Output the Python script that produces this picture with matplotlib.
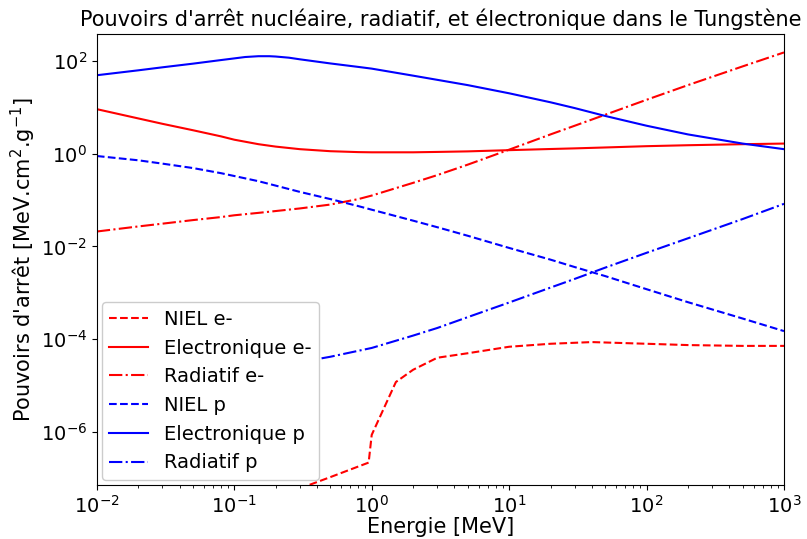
import matplotlib
matplotlib.use('Agg')
import matplotlib.pyplot as plt
from matplotlib.ticker import NullLocator

# energies (MeV) and stopping powers (MeV.cm2/g)
energy = [0.01, 0.02, 0.03, 0.05, 0.08, 0.1, 0.15, 0.2, 0.3, 0.5, 0.8, 1,
          2, 3, 5, 10, 20, 30, 50, 100, 200, 500, 1000]

elec_e = [9.1, 5.75, 4.4, 3.2, 2.36, 2.0, 1.6, 1.42, 1.25, 1.13, 1.08, 1.07,
          1.07, 1.09, 1.12, 1.19, 1.26, 1.30, 1.36, 1.45, 1.52, 1.60, 1.65]
rad_e = [0.021, 0.027, 0.031, 0.037, 0.043, 0.047, 0.053, 0.058, 0.066, 0.08, 0.105, 0.125,
         0.235, 0.345, 0.58, 1.22, 2.6, 4.0, 6.9, 14.5, 30, 76, 152]
niel_p = [0.89, 0.72, 0.61, 0.49, 0.38, 0.33, 0.255, 0.205, 0.15, 0.105, 0.074, 0.062,
          0.036, 0.026, 0.017, 0.0093, 0.0052, 0.0036, 0.0023, 0.0012, 0.00063, 0.00028, 0.00015]

energy_elec_p = [0.01, 0.02, 0.03, 0.05, 0.08, 0.1, 0.12, 0.15, 0.18, 0.2, 0.25, 0.3,
                 0.5, 0.8, 1, 2, 3, 5, 10, 20, 30, 50, 100, 200, 500, 1000]
elec_p = [49, 62.5, 72.6, 87, 104, 113, 121, 126, 126, 124, 117, 108,
          88, 74, 68, 48, 39, 30, 20, 12.8, 9.6, 6.5, 4.0, 2.6, 1.65, 1.25]

energy_rad_p = [0.3, 0.5, 1, 2, 3, 5, 10, 20, 30, 50, 100, 200, 500, 1000]
rad_p = [3.2e-5, 4.2e-5, 6.5e-5, 1.2e-4, 1.75e-4, 3.0e-4, 6.2e-4, 1.3e-3, 2.0e-3,
         3.5e-3, 7.3e-3, 1.5e-2, 3.9e-2, 8.3e-2]

energy_niel_e = [0.25, 0.5, 0.95, 1.0, 1.5, 2, 3, 5, 10, 20, 40, 100, 200, 500, 1000]
niel_e = [5e-8, 1.07e-7, 2.2e-7, 8.7e-7, 1.2e-5, 2.2e-5, 4.0e-5, 5.0e-5, 6.9e-5,
          8.0e-5, 8.7e-5, 8.0e-5, 7.5e-5, 7.2e-5, 7.2e-5]

fig = plt.figure(figsize=(8.07, 5.39), dpi=100)
ax = fig.add_axes([0.12, 0.1, 0.8515, 0.837])

ax.loglog(energy_niel_e, niel_e, 'r--', label='NIEL e-')
ax.loglog(energy, elec_e, 'r-', label='Electronique e-')
ax.loglog(energy, rad_e, 'r-.', label='Radiatif e-')
ax.loglog(energy, niel_p, 'b--', label='NIEL p')
ax.loglog(energy_elec_p, elec_p, 'b-', label='Electronique p')
ax.loglog(energy_rad_p, rad_p, 'b-.', label='Radiatif p')

ax.set_xlim(1e-2, 1e3)
ax.set_ylim(7.2e-8, 3.8e2)
ax.set_yticks([1e-6, 1e-4, 1e-2, 1, 1e2])
ax.yaxis.set_minor_locator(NullLocator())
ax.tick_params(labelsize=14)

ax.set_xlabel('Energie [MeV]', fontsize=15, labelpad=0)
ax.set_ylabel(r"Pouvoirs d'arrêt [MeV.cm$^2$.g$^{-1}$]", fontsize=15, labelpad=2)
ax.set_title("Pouvoirs d'arrêt nucléaire, radiatif, et électronique dans le Tungstène", fontsize=15)
ax.legend(loc='lower left', fontsize=14, framealpha=1, borderaxespad=0.25)

fig.savefig('out.png', dpi=100)
